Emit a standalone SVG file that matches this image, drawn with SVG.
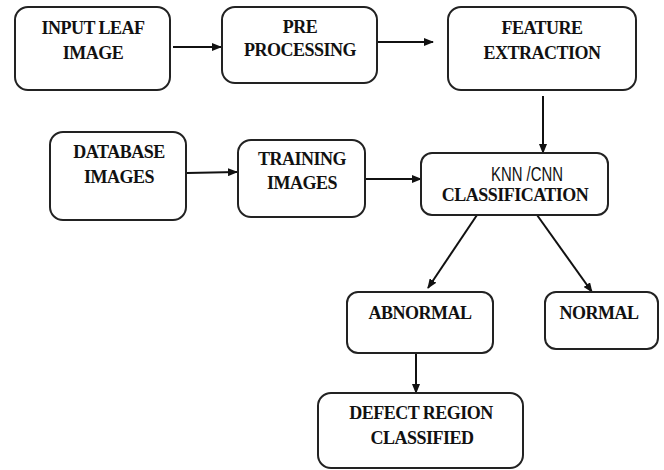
<svg xmlns="http://www.w3.org/2000/svg" width="664" height="470" viewBox="0 0 664 470">
<style>
.box{fill:#fff;stroke:#222;stroke-width:2}
.t{font-family:"Liberation Serif","Times New Roman",serif;font-weight:bold;font-size:18px;fill:#111;text-anchor:middle;letter-spacing:-0.5px}
.s{font-family:"Liberation Sans",Arial,sans-serif;font-size:20px;fill:#111;text-anchor:middle}
.c{stroke:#111;stroke-width:2;fill:none;marker-end:url(#ah)}
</style>
<defs>
<marker id="ah" markerWidth="10" markerHeight="8" refX="9" refY="4" orient="auto" markerUnits="userSpaceOnUse">
<path d="M0,0 L10,4 L0,8 Z" fill="#111"/>
</marker>
</defs>
<rect width="664" height="470" fill="#fff"/>
<g id="connectors">
<line class="c" x1="173" y1="47" x2="221" y2="47"/>
<line class="c" x1="378" y1="42" x2="433" y2="42"/>
<line class="c" x1="543" y1="96" x2="543" y2="153"/>
<line class="c" x1="187" y1="173" x2="237" y2="172"/>
<line class="c" x1="366" y1="179" x2="421" y2="179"/>
<line class="c" x1="477" y1="215" x2="428" y2="288"/>
<line class="c" x1="537" y1="215" x2="592" y2="292"/>
<line class="c" x1="416" y1="354" x2="416" y2="393"/>
</g>
<g id="input">
<rect class="box" x="15" y="7" width="155" height="83" rx="13"/>
<text class="t" x="93" y="34">INPUT LEAF</text>
<text class="t" x="93" y="59">IMAGE</text>
</g>
<g id="pre">
<rect class="box" x="222" y="7" width="155" height="76" rx="13"/>
<text class="t" x="300" y="33">PRE</text>
<text class="t" x="300" y="56">PROCESSING</text>
</g>
<g id="feature">
<rect class="box" x="448" y="7" width="188" height="83" rx="13"/>
<text class="t" x="542" y="34">FEATURE</text>
<text class="t" x="542" y="59">EXTRACTION</text>
</g>
<g id="database">
<rect class="box" x="50" y="132" width="136" height="88" rx="13"/>
<text class="t" x="119" y="158">DATABASE</text>
<text class="t" x="119" y="183">IMAGES</text>
</g>
<g id="training">
<rect class="box" x="238" y="140" width="127" height="77" rx="13"/>
<text class="t" x="302" y="165">TRAINING</text>
<text class="t" x="302" y="189">IMAGES</text>
</g>
<g id="classification">
<rect class="box" x="421" y="153" width="187" height="62" rx="11"/>
<text class="s" x="527" y="181" textLength="72" lengthAdjust="spacingAndGlyphs">KNN /CNN</text>
<text class="t" x="515" y="201">CLASSIFICATION</text>
</g>
<g id="abnormal">
<rect class="box" x="347" y="292" width="146" height="61" rx="11"/>
<text class="t" x="420" y="319">ABNORMAL</text>
</g>
<g id="normal">
<rect class="box" x="545" y="292" width="113" height="57" rx="11"/>
<text class="t" x="599" y="319">NORMAL</text>
</g>
<g id="defect">
<rect class="box" x="318" y="393" width="205" height="75" rx="13"/>
<text class="t" x="421" y="419">DEFECT REGION</text>
<text class="t" x="422" y="444">CLASSIFIED</text>
</g>
</svg>
